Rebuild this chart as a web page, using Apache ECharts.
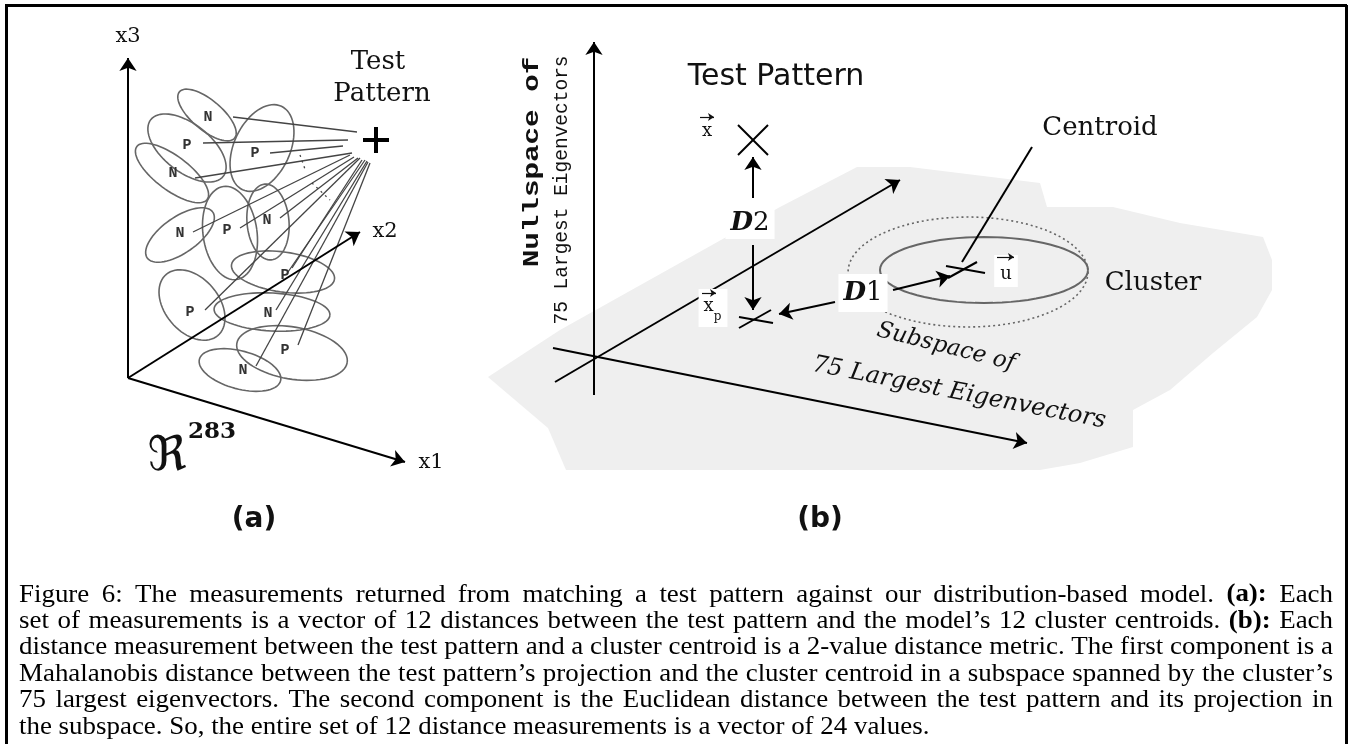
<!DOCTYPE html>
<html><head><meta charset="utf-8">
<script src="https://cdn.jsdelivr.net/npm/echarts@6/dist/echarts.min.js"></script>
<style>html,body{margin:0;padding:0;background:#fff}#c{width:1351px;height:744px}</style>
</head><body><div id="c"></div>
<script>
// ================= DATA (diagram space, 1 unit = 1 px) =================
// Panel (a): 12 cluster ellipses
const clusterKind  = ['N','P','N','P','N','P','N','P','P','N','P','N'];
const clusterCx    = [207,187,172,262,180,230,268,283,192,272,292,240];
const clusterCy    = [115,148,173,148,235,233,222,272,305,312,353,370];
const clusterRx    = [36,46,44,46,40,27,21,52,40,58,56,42];
const clusterRy    = [15,24,17,28,18,47,38,20,27,19,26,19];
const clusterAngle = [40,38,37,115,-35,-8,-5,8,50,3,10,15];
const clusterLabelX = [208,187,173,255,180,227,267,285,190,268,285,243];
const clusterLabelY = [117,145,173,153,233,230,220,275,312,313,350,370];
// links from the test pattern to the clusters
const linkX0 = [357,348,343,352,350,354,358,362,365,367,370,360,368];
const linkY0 = [132,140,146,153,155,157,158,160,160,161,163,158,162];
const linkX1 = [233,203,270,195,193,240,280,292,288,276,298,205,256];
const linkY1 = [117,143,153,178,232,228,218,268,272,310,345,310,366];
const dottedX0 = [300,312], dottedY0 = [155,183], dottedX1 = [306,330], dottedY1 = [172,200];
// panel (a) axes: origin and tips (x1, x2, x3)
const axisAOrigin = [128,378];
const axisATipX = [405,360,128];
const axisATipY = [462,232,58];
const axisANames = ['x1','x2','x3'];
// Panel (b): subspace region outline
const regionX = [488,560,780,857,910,1040,1047,1113,1180,1263,1272,1272,1257,1213,1170,1133,1133,1080,1040,800,566,548];
const regionY = [377,330,207,167,167,183,207,207,223,237,260,290,317,353,390,410,447,463,470,470,470,428];
// Panel (b) arrows (start -> end with head)
const arrowBX0 = [594,553,555,753,753,835,893];
const arrowBY0 = [395,348,382,198,245,302,290];
const arrowBX1 = [594,1027,900,753,753,779,950];
const arrowBY1 = [42,443,180,157,310,314,276];
// Panel (b) plain strokes: test pattern X, projection cross, centroid cross, centroid leader
const strokeX0 = [738,768,739,739,948,946,1032];
const strokeY0 = [125,125,328,317,278,266,147];
const strokeX1 = [768,738,771,773,977,985,962];
const strokeY1 = [155,155,310,323,262,273,262];
// Panel (b) cluster: solid and dotted ellipses
const clusterBCx = [984,968], clusterBCy = [270,272], clusterBRx = [104,120], clusterBRy = [33,55];
// vector arrows over symbols x, x_p, u
const vecX0 = [700,702,997], vecY0 = [117,293,257], vecX1 = [714,716,1014], vecY1 = [117,293,257];
// Free text labels
const textStr = ['x3','x1','x2','Test','Pattern','\u211C','283','(a)',
  'Test Pattern','Nullspace of','75 Largest Eigenvectors','Centroid','Cluster',
  'Subspace of','75 Largest Eigenvectors','(b)','x'];
const textX = [128,431,385,378,382,167,212,254, 776,532,562,1100,1153, 946,959,820,707];
const textY = [37,463,232,62,94,458,432,520, 77,162,190,128,283, 347,393,520,131];
const textRot = [0,0,0,0,0,0,0,0, 0,90,90,0,0, -14,-11,0,0];
const textKind = ['axis','axis','axis','tp','tp','frak','sup','panel','tpb','null1','null2','cen','cen','sub','sub2','panel','vec'];
// boxed labels
const boxKind = ['D2','xp','D1','u'];
const boxX = [750,713,863,1006];
const boxY = [223,308,293,271];
// frame
const frameX0 = [5,6,1346], frameY0 = [5,5,5], frameX1 = [1347,6,1346], frameY1 = [5,744,744];
// Caption
const captionLines = [
  'Figure 6: The measurements returned from matching a test pattern against our distribution-based model. (a): Each',
  'set of measurements is a vector of 12 distances between the test pattern and the model\u2019s 12 cluster centroids. (b): Each',
  'distance measurement between the test pattern and a cluster centroid is a 2-value distance metric. The first component is a',
  'Mahalanobis distance between the test pattern\u2019s projection and the cluster centroid in a subspace spanned by the cluster\u2019s',
  '75 largest eigenvectors. The second component is the Euclidean distance between the test pattern and its projection in',
  'the subspace. So, the entire set of 12 distance measurements is a vector of 24 values.'
];

// ================= STYLES =================
const SERIF = '"DejaVu Serif", serif';
const textStyles = {
  axis:  {fontFamily: SERIF, fontSize: 21, fill:'#111'},
  tp:    {fontFamily: SERIF, fontSize: 26, fill:'#111'},
  frak:  {fontFamily: '"DejaVu Serif","DejaVu Sans"', fontSize: 48, fill:'#111'},
  sup:   {fontFamily: SERIF, fontSize: 23, fontWeight:'bold', fill:'#111'},
  panel: {fontFamily: '"DejaVu Sans"', fontSize: 28, fontWeight:'bold', fill:'#111'},
  tpb:   {fontFamily: '"DejaVu Sans"', fontSize: 30, fill:'#111'},
  null1: {fontFamily: '"Liberation Mono"', fontSize: 22, fontWeight:'bold', fill:'#111'},
  null2: {fontFamily: '"Liberation Mono"', fontSize: 19.5, fill:'#111'},
  cen:   {fontFamily: SERIF, fontSize: 26, fill:'#111'},
  sub:   {fontFamily: SERIF, fontSize: 23, fontStyle:'italic', fill:'#111'},
  sub2:  {fontFamily: SERIF, fontSize: 24, fontStyle:'italic', fill:'#111'},
  vec:   {fontFamily: SERIF, fontSize: 18, fill:'#111'}
};
const textScaleX = {null1: 1.33};
const boxStyles = {
  D2: {text:'{d|D}{n|2}', rich:{d:{fontFamily:SERIF,fontSize:26,fontWeight:'bold',fontStyle:'italic'},n:{fontFamily:SERIF,fontSize:26}}, padding:[3,5,3,5]},
  D1: {text:'{d|D}{n|1}', rich:{d:{fontFamily:SERIF,fontSize:26,fontWeight:'bold',fontStyle:'italic'},n:{fontFamily:SERIF,fontSize:26}}, padding:[6,5,6,5]},
  xp: {text:'{x|x}{p|p}', rich:{x:{fontFamily:SERIF,fontSize:18,verticalAlign:'top'},p:{fontFamily:SERIF,fontSize:12,verticalAlign:'bottom',lineHeight:26}}, padding:[8,6,4,5]},
  u:  {text:'{x|u}', rich:{x:{fontFamily:SERIF,fontSize:18}}, padding:[10,6,4,6]}
};

// ================= CHART =================
const chart = echarts.init(document.getElementById('c'), null, {renderer:'canvas'});
const seg = (x0,y0,x1,y1) => x0.map((x,i)=>({coords:[[x,y0[i]],[x1[i],y1[i]]]}));

function ellipsePts(api, cx, cy, rx, ry, angDeg){
  const a = angDeg*Math.PI/180, pts=[];
  for(let k=0;k<=72;k++){
    const t=k/72*2*Math.PI;
    const x=cx+rx*Math.cos(t)*Math.cos(a)-ry*Math.sin(t)*Math.sin(a);
    const y=cy+rx*Math.cos(t)*Math.sin(a)+ry*Math.sin(t)*Math.cos(a);
    pts.push(api.coord([x,y]));
  }
  return pts;
}

// caption, justified; horizontal scale chosen so the longest line fits the measure
const capSize = 25, capFamily = '"Liberation Serif", serif';
const mctx = document.createElement('canvas').getContext('2d');
function mw(s,b){ mctx.font=(b?'bold ':'')+capSize+'px '+capFamily; return mctx.measureText(s).width; }
function lineNatural(line){ return line.split(' ').reduce((a,w)=>a+mw(w,/^\([ab]\):$/.test(w)),0) + (line.split(' ').length-1)*mw(' ',false); }
const capLeft = 19, capRight = 1333, capTop = 595, capStep = 26.4;
const capScale = Math.min(...captionLines.slice(0,-1).map(l=>(capRight-capLeft)/lineNatural(l)));
const captionEls = [];
captionLines.forEach((line,li)=>{
  const words=line.split(' ');
  const bold=words.map(w=>/^\([ab]\):$/.test(w));
  const ws=words.map((w,i)=>mw(w,bold[i])*capScale);
  const sum=ws.reduce((a,b)=>a+b,0);
  const gap = li<captionLines.length-1 ? (capRight-capLeft-sum)/(words.length-1) : mw(' ',false)*capScale;
  let x=capLeft;
  words.forEach((w,i)=>{
    captionEls.push({type:'text', x:x, y:capTop+li*capStep, scaleX:capScale, silent:true,
      style:{text:w, fontFamily:capFamily, fontSize:capSize, fontWeight:bold[i]?'bold':'normal', fill:'#000', verticalAlign:'middle', align:'left'}});
    x+=ws[i]+gap;
  });
});

const option = {
  animation:false,
  backgroundColor:'#fff',
  grid:{left:0,right:0,top:0,bottom:0},
  xAxis:{type:'value',min:0,max:1351,show:false},
  yAxis:{type:'value',min:0,max:744,inverse:true,show:false},
  graphic: captionEls,
  series:[
    {type:'custom', z:1, silent:true, data:[[regionX[0],regionY[0]]],
      renderItem:(p,api)=>({type:'polygon', shape:{points:regionX.map((x,i)=>api.coord([x,regionY[i]]))}, style:{fill:'#efefef',stroke:null}})},
    {type:'custom', z:2, silent:true,
      data: clusterCx.map((x,i)=>[x,clusterCy[i],clusterRx[i],clusterRy[i],clusterAngle[i]]),
      renderItem:(p,api)=>({type:'polyline', shape:{points:ellipsePts(api,api.value(0),api.value(1),api.value(2),api.value(3),api.value(4))}, style:{fill:null,stroke:'#666',lineWidth:1.6}})},
    {type:'lines', coordinateSystem:'cartesian2d', z:2, silent:true, symbol:'none',
      lineStyle:{color:'#444',width:1.3,opacity:1}, data: seg(linkX0,linkY0,linkX1,linkY1)},
    {type:'lines', coordinateSystem:'cartesian2d', z:2, silent:true, symbol:'none',
      lineStyle:{color:'#444',width:1.3,type:[2,4],opacity:1}, data: seg(dottedX0,dottedY0,dottedX1,dottedY1)},
    {type:'lines', coordinateSystem:'cartesian2d', z:3, silent:true, symbol:['none','arrow'], symbolSize:[0,13],
      lineStyle:{color:'#000',width:2,opacity:1},
      data: axisATipX.map((x,i)=>({name:axisANames[i], coords:[axisAOrigin,[x,axisATipY[i]]]}))},
    {type:'custom', z:4, silent:true, data:[[376,140]],
      renderItem:(p,api)=>{const c=api.coord([api.value(0),api.value(1)]);
        return {type:'group',children:[
          {type:'line',shape:{x1:c[0]-13,y1:c[1],x2:c[0]+13,y2:c[1]},style:{stroke:'#000',lineWidth:4}},
          {type:'line',shape:{x1:c[0],y1:c[1]-13,x2:c[0],y2:c[1]+13},style:{stroke:'#000',lineWidth:4}}]};}},
    {type:'custom', z:5, silent:true, data: clusterLabelX.map((x,i)=>[x,clusterLabelY[i]]),
      renderItem:(p,api)=>{const c=api.coord([api.value(0),api.value(1)]);
        return {type:'text',x:c[0],y:c[1],style:{text:clusterKind[p.dataIndex],fontFamily:'"Liberation Mono"',fontWeight:'bold',fontSize:15,fill:'#333',align:'center',verticalAlign:'middle'}};}},
    {type:'custom', z:3, silent:true,
      data: clusterBCx.map((x,i)=>[x,clusterBCy[i],clusterBRx[i],clusterBRy[i]]),
      renderItem:(p,api)=>({type:'polyline', shape:{points:ellipsePts(api,api.value(0),api.value(1),api.value(2),api.value(3),0)},
        style:{fill:null,stroke:'#666',lineWidth:p.dataIndex===0?2:1.6,lineDash:p.dataIndex===0?null:[2,3]}})},
    {type:'lines', coordinateSystem:'cartesian2d', z:4, silent:true, symbol:['none','arrow'], symbolSize:[0,13],
      lineStyle:{color:'#000',width:2,opacity:1}, data: seg(arrowBX0,arrowBY0,arrowBX1,arrowBY1)},
    {type:'lines', coordinateSystem:'cartesian2d', z:4, silent:true, symbol:'none',
      lineStyle:{color:'#000',width:2,opacity:1}, data: seg(strokeX0,strokeY0,strokeX1,strokeY1)},
    {type:'custom', z:5, silent:true, data: textX.map((x,i)=>[x,textY[i]]),
      renderItem:(p,api)=>{const i=p.dataIndex, c=api.coord([api.value(0),api.value(1)]);
        const k=textKind[i];
        return {type:'text',x:c[0],y:c[1],rotation:textRot[i]*Math.PI/180, scaleX:textScaleX[k]||1,
          style:Object.assign({text:textStr[i],align:'center',verticalAlign:'middle'},textStyles[k])};}},
    {type:'custom', z:6, silent:true, data: boxX.map((x,i)=>[x,boxY[i]]),
      renderItem:(p,api)=>{const i=p.dataIndex, c=api.coord([api.value(0),api.value(1)]);
        return {type:'text',x:c[0],y:c[1],
          style:Object.assign({align:'center',verticalAlign:'middle',backgroundColor:'#fff',fill:'#111'},boxStyles[boxKind[i]])};}},
    {type:'lines', coordinateSystem:'cartesian2d', z:7, silent:true, symbol:['none','arrow'], symbolSize:[0,6],
      lineStyle:{color:'#111',width:1.2,opacity:1}, data: seg(vecX0,vecY0,vecX1,vecY1)},
    {type:'lines', coordinateSystem:'cartesian2d', z:8, silent:true, symbol:'none',
      lineStyle:{color:'#000',width:3,opacity:1}, data: seg(frameX0,frameY0,frameX1,frameY1)}
  ]
};
chart.setOption(option);
</script></body></html>
